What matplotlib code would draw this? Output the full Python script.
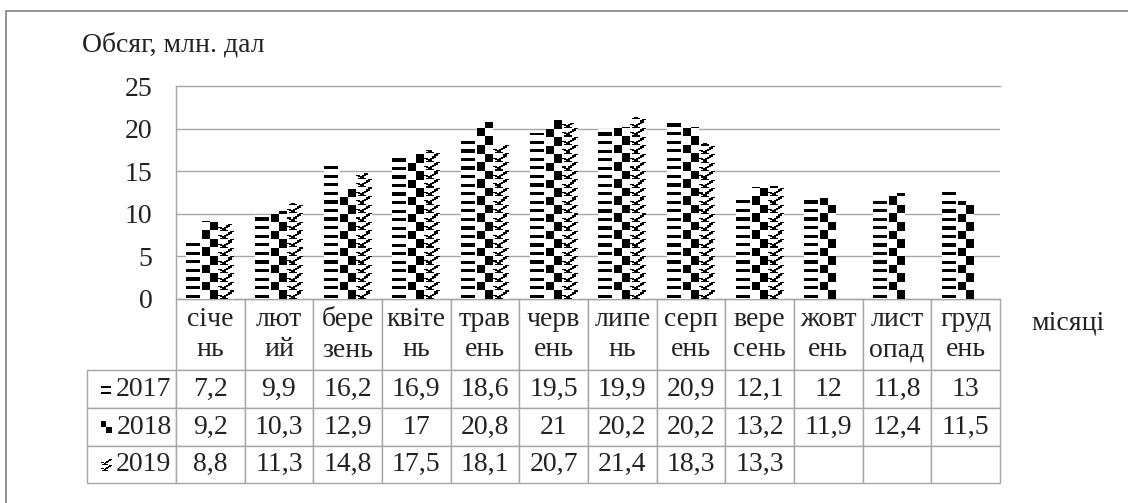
import numpy as np
import matplotlib
matplotlib.use("Agg")
import matplotlib.pyplot as plt
from matplotlib.patches import Rectangle


months = [
    "січе\nнь", "лют\nий", "бере\nзень", "квіте\nнь",
    "трав\nень", "черв\nень", "липе\nнь", "серп\nень",
    "вере\nсень", "жовт\nень", "лист\nопад", "груд\nень"
]

years = ["2017", "2018", "2019"]

v2017 = [7.2, 9.9, 16.2, 16.9, 18.6, 19.5, 19.9, 20.9, 12.1, 12, 11.8, 13]
v2018 = [9.2, 10.3, 12.9, 17, 20.8, 21, 20.2, 20.2, 13.2, 11.9, 12.4, 11.5]
v2019 = [8.8, 11.3, 14.8, 17.5, 18.1, 20.7, 21.4, 18.3, 13.3,
         np.nan, np.nan, np.nan]

y_ticks = [0, 5, 10, 15, 20, 25]

FONT = "Liberation Serif"
TEXT = "#222222"
GRID = "#a6a6a6"
FS = 20

W, H = 1128, 503


def tile_dash():
    t = np.zeros((8, 8))
    t[4:7, 0:7] = 1
    return t


def tile_checker():
    return np.array([[1.0, 0.0], [0.0, 1.0]])


def tile_check():
    t = np.zeros((8, 8))
    for r in range(8):
        c = 7 - int(round(r * 5 / 7))
        t[r, c] = 1
        t[r, max(c - 1, 0)] = 1
    for r in range(4, 8):
        t[r, r - 4] = 1
        t[r, r - 3] = 1
    return t


patterns = [tile_dash(), tile_checker(), tile_check()]


def fill_bars(ax, bars, tile):
    for bar in bars:
        h = bar.get_height()
        if not np.isfinite(h) or h <= 0:
            continue
        x0 = bar.get_x()
        n = int(np.ceil(h)) + 2
        if tile.shape[0] == 2:
            n += n % 2
            img = np.tile(tile, (n // 2, 1))
        else:
            img = np.tile(tile, (n, 1))
        im = ax.imshow(
            img,
            cmap="gray_r",
            vmin=0,
            vmax=1,
            interpolation="nearest",
            extent=(x0, x0 + bar.get_width(), 0, n),
            origin="upper",
            aspect="auto",
            zorder=3
        )
        im.set_clip_path(bar)


fig = plt.figure(figsize=(W / 100, H / 100), dpi=100)

ax_left, ax_right = 176, 1000
ax_top, ax_bottom = 86, 299
ax = fig.add_axes([
    ax_left / W,
    1 - ax_bottom / H,
    (ax_right - ax_left) / W,
    (ax_bottom - ax_top) / H
])

x = np.arange(len(months))
bw = 0.233
series = [v2017, v2018, v2019]
for i, vals in enumerate(series):
    bars = ax.bar(
        x + (i - 1) * bw,
        vals,
        width=bw,
        color="white",
        edgecolor="none",
        zorder=2
    )
    fill_bars(ax, bars, patterns[i])

ax.set_xlim(-0.5, len(months) - 0.5)
ax.set_ylim(0, 25)
ax.set_yticks(y_ticks)
ax.set_yticklabels([str(t) for t in y_ticks], fontsize=FS,
                   fontfamily=FONT, color=TEXT)
ax.tick_params(axis="y", length=0, pad=17)
ax.set_xticks([])

for t in y_ticks[1:-1]:
    ax.axhline(t, color=GRID, linewidth=1, zorder=1)

ax.spines["right"].set_visible(False)
for side in ["left", "top", "bottom"]:
    ax.spines[side].set_color(GRID)
    ax.spines[side].set_linewidth(1)

# data table under the plot
cells = [[""] + months]
for yr, vals in zip(years, series):
    row = [yr]
    for v in vals:
        row.append("" if np.isnan(v) else f"{v:g}".replace(".", ","))
    cells.append(row)

tab_left, tab_bottom = 87, 483
ax_w = ax_right - ax_left
ax_h = ax_bottom - ax_top
bbox = [
    (tab_left - ax_left) / ax_w,
    -(tab_bottom - ax_bottom) / ax_h,
    (ax_right - tab_left) / ax_w,
    (tab_bottom - ax_bottom) / ax_h
]
col_w = [89] + [(ax_right - ax_left) / 12] * 12
row_h = [71, 38, 38, 37]

table = ax.table(
    cellText=cells,
    cellLoc="center",
    colWidths=[c / sum(col_w) for c in col_w],
    bbox=bbox
)
table.auto_set_font_size(False)
for (r, c), cell in table.get_celld().items():
    cell.set_height(row_h[r])
    cell.set_edgecolor(GRID)
    cell.set_linewidth(1)
    txt = cell.get_text()
    txt.set_fontfamily(FONT)
    txt.set_fontsize(FS)
    txt.set_color(TEXT)
    if r == 0:
        txt.set_linespacing(1.3)
    if r == 0 and c == 0:
        cell.visible_edges = ""
    if c == 0 and r > 0:
        txt.set_horizontalalignment("right")
        cell.PAD = 0.05

# legend keys in the row labels
row_edges = [370, 408, 446, 483]
for i in range(3):
    yc = (row_edges[i] + row_edges[i + 1]) / 2
    key = patterns[i]
    if key.shape[0] == 8:
        key = np.tile(key, (2, 1))
    kax = fig.add_axes([101 / W, 1 - (yc + 6) / H, 11 / W, 12 / H])
    kax.imshow(key, cmap="gray_r", vmin=0, vmax=1,
               interpolation="nearest", aspect="auto")
    kax.axis("off")

fig.text(82 / W, 1 - 45 / H, "Обсяг, млн. дал", fontsize=FS,
         fontfamily=FONT, color=TEXT, ha="left", va="center")
fig.text(1068 / W, 1 - 323 / H, "місяці", fontsize=FS,
         fontfamily=FONT, color=TEXT, ha="center", va="center")

fig.patches.append(Rectangle(
    (6 / W, -0.1),
    1.2,
    1.1 - 11 / H,
    transform=fig.transFigure,
    fill=False,
    edgecolor="#808080",
    linewidth=1.2
))

fig.savefig("out.png", dpi=100, facecolor="white")
